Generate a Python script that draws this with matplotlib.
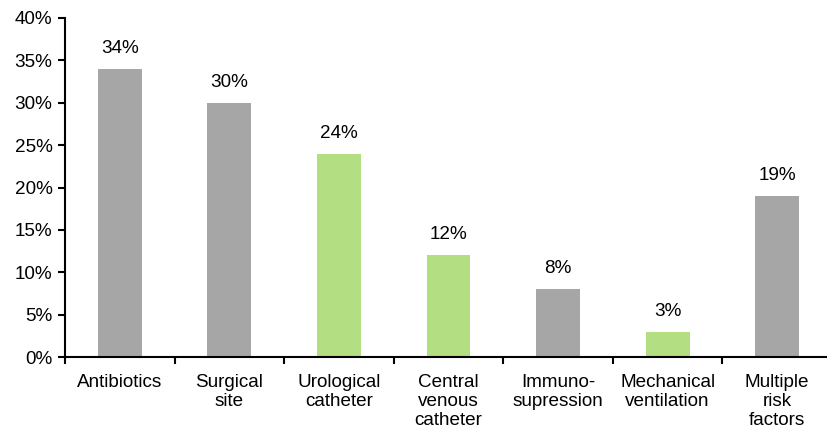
import numpy as np
import matplotlib.pyplot as plt
from matplotlib.ticker import FuncFormatter, MultipleLocator

plt.rcParams['font.family'] = ['Liberation Sans', 'DejaVu Sans']

categories = ["Antibiotics", "Surgical\nsite", "Urological\ncatheter",
              "Central\nvenous\ncatheter", "Immuno-\nsupression",
              "Mechanical\nventilation", "Multiple\nrisk\nfactors"]
values = [34, 30, 24, 12, 8, 3, 19]
highlight = [False, False, True, True, False, True, False]

gray = '#A6A6A6'
green = '#B3DE82'
colors = [green if h else gray for h in highlight]

fig = plt.figure(figsize=(8.27, 4.29), dpi=100)
ax = fig.add_axes([65 / 827, 72 / 429, 767 / 827, 339 / 429])

x = np.arange(len(categories))
ax.bar(x, values, width=0.4, color=colors, zorder=2)

for xi, v in zip(x, values):
    ax.annotate(f"{v}%", (xi, v), xytext=(0, 8.5), textcoords='offset points',
                ha='center', va='bottom', fontsize=13.6)

ax.set_xlim(-0.5, len(categories) - 0.5)
ax.set_ylim(0, 40)
ax.yaxis.set_major_locator(MultipleLocator(5))
ax.yaxis.set_major_formatter(FuncFormatter(lambda v, p: f"{v:.0f}%"))

# category labels centred, ticks on the boundaries
ax.set_xticks(x)
ax.set_xticklabels(categories, fontsize=13.6, linespacing=1.18, va='top')
ax.tick_params(axis='x', which='major', length=0, pad=12)
ax.set_xticks(np.arange(len(categories) + 1) - 0.5, minor=True)
ax.tick_params(axis='x', which='minor', length=5, width=1.5, direction='out')
ax.tick_params(axis='y', length=5, width=1.5, labelsize=13.6, pad=4)

for side in ['top', 'right']:
    ax.spines[side].set_visible(False)
for side in ['left', 'bottom']:
    ax.spines[side].set_linewidth(1.5)

fig.savefig('out.png', dpi=100)
